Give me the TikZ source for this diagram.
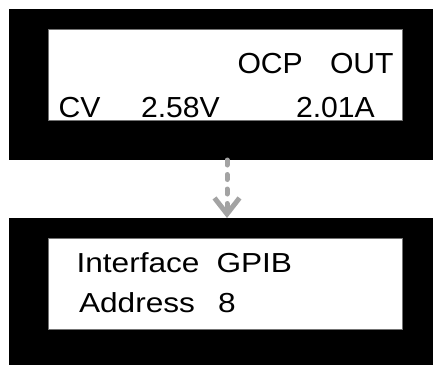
\documentclass[tikz,border=0pt]{standalone}
\usepackage{fontspec}
\setmainfont{Liberation Sans}
\newfontfamily\lcdtop[FakeStretch=1.04]{Liberation Sans}
\newfontfamily\lcdbot[FakeStretch=1.15]{Liberation Sans}
\usetikzlibrary{arrows.meta}
\definecolor{arrgray}{HTML}{A3A3A3}
\begin{document}
\begin{tikzpicture}[x=1pt,y=-1pt,
  frame/.style={fill=black,draw=none,inner sep=0pt,outer sep=0pt,anchor=north west,minimum width=424pt},
  screen/.style={fill=white,draw=black!55,line width=0.8pt,inner sep=0pt,outer sep=0pt,anchor=north west,minimum width=354pt,minimum height=91pt},
  lcdA/.style={anchor=base west,inner sep=0pt,outer sep=0pt,font=\lcdtop\fontsize{29}{29}\selectfont},
  lcdB/.style={anchor=base west,inner sep=0pt,outer sep=0pt,font=\lcdbot\fontsize{27.5}{27.5}\selectfont},
  arr/.style={draw=arrgray,line width=5pt,line cap=round,dash pattern=on 5pt off 9.5pt,
    -{Straight Barb[length=16pt,width=25pt,line width=5pt]}}]
\useasboundingbox (0,0) rectangle (433,365);
% top display
\node[frame,minimum height=151pt] (top) at (9,9) {};
\node[screen] (scr1) at (48,29) {};
\begin{scope}
\clip (scr1.north west) rectangle (scr1.south east);
\node[lcdA] (ocp) at (237.5,73) {OCP};
\node[lcdA] (out) at (330,73) {OUT};
\node[lcdA] (cv) at (58.5,117.5) {CV};
\node[lcdA] (volt) at (141,117.5) {2.58V};
\node[lcdA] (amp) at (296,117.5) {2.01A};
\end{scope}
% bottom display
\node[frame,minimum height=147pt] (bot) at (9,218) {};
\node[screen] (scr2) at (48,238) {};
\node[lcdB] (ifc) at (76.5,272) {Interface};
\node[lcdB] (gpib) at (216.5,272) {GPIB};
\node[lcdB] (addr) at (79,312) {Address};
\node[lcdB] (eight) at (218,312) {8};
% arrow
\coordinate (ax) at (227,0);
\draw[arr] (top.south -| ax) -- (bot.north -| ax);
\end{tikzpicture}
\end{document}
